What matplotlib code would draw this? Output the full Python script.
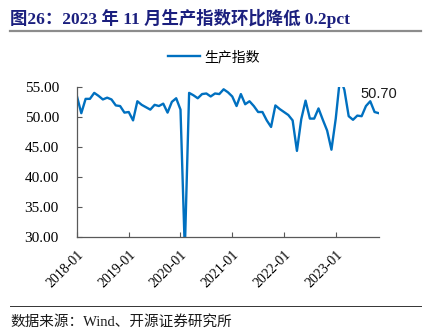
import matplotlib
matplotlib.use("Agg")
import matplotlib.pyplot as plt
import numpy as np

plt.rcParams['font.family'] = ['Liberation Serif', 'Noto Sans CJK SC']

# monthly production index, 2018-01 .. 2023-11
prod_2018 = [53.5, 50.7, 53.1, 53.1, 54.1, 53.6, 53.0, 53.3, 53.0, 52.0, 51.9, 50.8]
prod_2019 = [50.9, 49.5, 52.7, 52.1, 51.7, 51.3, 52.1, 51.9, 52.3, 50.8, 52.6, 53.2]
prod_2020 = [51.3, 27.8, 54.1, 53.7, 53.2, 53.9, 54.0, 53.5, 54.0, 53.9, 54.7, 54.2]
prod_2021 = [53.5, 51.9, 53.9, 52.2, 52.7, 51.9, 50.9, 50.9, 49.5, 48.4, 52.0, 51.4]
prod_2022 = [50.9, 50.4, 49.5, 44.4, 49.7, 52.8, 49.8, 49.8, 51.5, 49.6, 47.8, 44.6]
prod_2023 = [49.8, 56.7, 54.6, 50.2, 49.6, 50.3, 50.2, 51.9, 52.7, 50.9, 50.7]
production = prod_2018 + prod_2019 + prod_2020 + prod_2021 + prod_2022 + prod_2023

year_labels = ['2018-01', '2019-01', '2020-01', '2021-01', '2022-01', '2023-01']
y_ticks = [30, 35, 40, 45, 50, 55]

blue = '#0070C0'
navy = '#1B1F7E'

fig = plt.figure(figsize=(4.34, 3.36), dpi=100)
ax = fig.add_axes([0.1774, 0.2946, 0.6956, 0.445])

months = np.arange(len(production))
ax.plot(months, production, color=blue, lw=1.7, label='生产指数', solid_joinstyle='round')

ax.set_xlim(0, len(production) - 1)
ax.set_ylim(30, 55)
ax.set_yticks(y_ticks)
ax.set_yticklabels(['%.2f' % v for v in y_ticks], fontsize=11)
ax.set_xticks(np.arange(len(year_labels)) * 12)
ax.set_xticklabels(year_labels, rotation=45, ha='right', rotation_mode='anchor', fontsize=10)
ax.tick_params(axis='both', direction='in', length=3.5, width=0.8, color='#595959')
ax.tick_params(axis='y', pad=13)
ax.tick_params(axis='x', pad=8)

for side in ['top', 'right']:
    ax.spines[side].set_visible(False)
for side in ['left', 'bottom']:
    ax.spines[side].set_color('#595959')
    ax.spines[side].set_linewidth(0.9)

# label the latest value
last = production[-1]
ax.annotate('%.2f' % last, xy=(months[-1], last), xytext=(-13, 14),
            textcoords='offset points', fontsize=10.5, family='Liberation Sans',
            color='#1a1a1a', ha='left', va='center')

fig.legend(loc='center', bbox_to_anchor=(214 / 434, 1 - 57 / 336), frameon=False,
           prop={'family': 'Noto Sans CJK SC', 'size': 10}, handlelength=2.3,
           handletextpad=0.3)

# header and footer
fig.text(10 / 434, 1 - 18 / 336, '图26：2023 年 11 月生产指数环比降低 0.2pct',
         fontsize=12.5, fontweight='bold', color=navy, va='center', ha='left')
fig.add_artist(plt.Line2D([10 / 434, 421 / 434], [1 - 30.5 / 336] * 2,
                          color='#8c8c8c', lw=1.6))
fig.add_artist(plt.Line2D([10 / 434, 421 / 434], [1 - 306 / 336] * 2,
                          color='#333333', lw=0.7))
fig.text(10 / 434, 1 - 322 / 336, '数据来源：Wind、开源证券研究所',
         fontsize=10.5, color='#1a1a1a', va='center', ha='left')

fig.savefig('out.png', dpi=100)
